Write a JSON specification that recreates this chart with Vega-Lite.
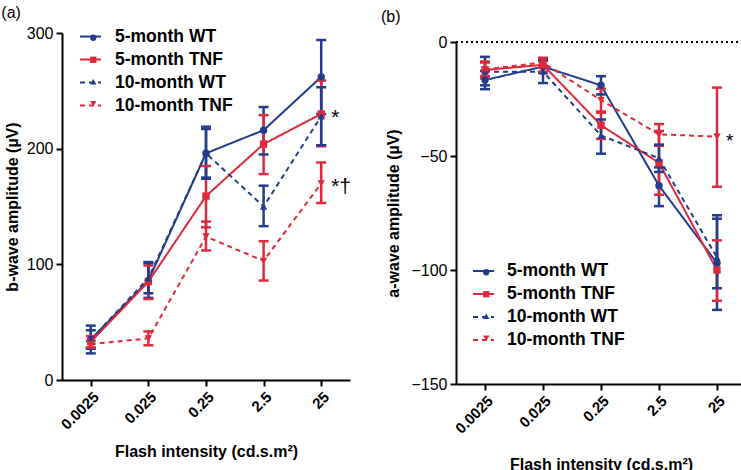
{
  "$schema": "https://vega.github.io/schema/vega-lite/v6.json",
  "background": "white",
  "padding": {"left": 1, "top": 5, "right": 0, "bottom": 0},
  "columns": 2,
  "align": "none",
  "spacing": 28,
  "datasets": {
    "bwave": [
      {"intensity": "0.0025", "series": "5-month WT", "mean": 35, "lo": 23, "hi": 47},
      {"intensity": "0.025", "series": "5-month WT", "mean": 86, "lo": 71, "hi": 102},
      {"intensity": "0.25", "series": "5-month WT", "mean": 196, "lo": 175, "hi": 217},
      {"intensity": "2.5", "series": "5-month WT", "mean": 216, "lo": 195, "hi": 236},
      {"intensity": "25", "series": "5-month WT", "mean": 262, "lo": 230, "hi": 294},
      {"intensity": "0.0025", "series": "5-month TNF", "mean": 33, "lo": 28, "hi": 38},
      {"intensity": "0.025", "series": "5-month TNF", "mean": 85, "lo": 70, "hi": 99},
      {"intensity": "0.25", "series": "5-month TNF", "mean": 159, "lo": 132, "hi": 185},
      {"intensity": "2.5", "series": "5-month TNF", "mean": 204, "lo": 178, "hi": 229},
      {"intensity": "25", "series": "5-month TNF", "mean": 230, "lo": 202, "hi": 259},
      {"intensity": "0.0025", "series": "10-month WT", "mean": 35, "lo": 27, "hi": 43},
      {"intensity": "0.025", "series": "10-month WT", "mean": 88, "lo": 75, "hi": 101},
      {"intensity": "0.25", "series": "10-month WT", "mean": 196, "lo": 174, "hi": 219},
      {"intensity": "2.5", "series": "10-month WT", "mean": 150, "lo": 133, "hi": 168},
      {"intensity": "25", "series": "10-month WT", "mean": 228, "lo": 203, "hi": 253},
      {"intensity": "0.0025", "series": "10-month TNF", "mean": 31, "lo": 28, "hi": 34},
      {"intensity": "0.025", "series": "10-month TNF", "mean": 36, "lo": 30, "hi": 42},
      {"intensity": "0.25", "series": "10-month TNF", "mean": 124, "lo": 112, "hi": 137},
      {"intensity": "2.5", "series": "10-month TNF", "mean": 103, "lo": 86, "hi": 120},
      {"intensity": "25", "series": "10-month TNF", "mean": 170, "lo": 153, "hi": 188}
    ],
    "awave": [
      {"intensity": "0.0025", "series": "5-month WT", "mean": -16.7, "lo": -20.7, "hi": -12.7},
      {"intensity": "0.025", "series": "5-month WT", "mean": -10.8, "lo": -13.5, "hi": -8},
      {"intensity": "0.25", "series": "5-month WT", "mean": -19, "lo": -23, "hi": -15},
      {"intensity": "2.5", "series": "5-month WT", "mean": -63, "lo": -72, "hi": -55},
      {"intensity": "25", "series": "5-month WT", "mean": -97, "lo": -117.5, "hi": -76},
      {"intensity": "0.0025", "series": "5-month TNF", "mean": -12.3, "lo": -16, "hi": -8.6},
      {"intensity": "0.025", "series": "5-month TNF", "mean": -10, "lo": -13, "hi": -7},
      {"intensity": "0.25", "series": "5-month TNF", "mean": -36.5, "lo": -42.5, "hi": -31},
      {"intensity": "2.5", "series": "5-month TNF", "mean": -53, "lo": -67, "hi": -39},
      {"intensity": "25", "series": "5-month TNF", "mean": -100, "lo": -113.5, "hi": -87},
      {"intensity": "0.0025", "series": "10-month WT", "mean": -13, "lo": -19, "hi": -6.5},
      {"intensity": "0.025", "series": "10-month WT", "mean": -13, "lo": -18, "hi": -8},
      {"intensity": "0.25", "series": "10-month WT", "mean": -41, "lo": -49, "hi": -34},
      {"intensity": "2.5", "series": "10-month WT", "mean": -51, "lo": -57, "hi": -45},
      {"intensity": "25", "series": "10-month WT", "mean": -94.5, "lo": -108, "hi": -77.5},
      {"intensity": "0.0025", "series": "10-month TNF", "mean": -12, "lo": -15, "hi": -9},
      {"intensity": "0.025", "series": "10-month TNF", "mean": -9, "lo": -11, "hi": -7},
      {"intensity": "0.25", "series": "10-month TNF", "mean": -25.5, "lo": -30.5, "hi": -20.5},
      {"intensity": "2.5", "series": "10-month TNF", "mean": -40.5, "lo": -45.5, "hi": -36},
      {"intensity": "25", "series": "10-month TNF", "mean": -41.5, "lo": -63.5, "hi": -20}
    ],
    "anno_b": [
      {"intensity": "25", "value": 230, "label": "*"},
      {"intensity": "25", "value": 170, "label": "*†"}
    ],
    "anno_a": [
      {"intensity": "25", "value": -41.5, "label": "*"}
    ]
  },
  "concat": [
    {
      "title": {"text": "(a)", "anchor": "start", "frame": "bounds", "fontSize": 16, "fontWeight": "normal", "font": "Liberation Sans", "offset": 4, "dx": -3, "color": "black"},
      "width": 288,
      "height": 347,
      "data": {"name": "bwave"},
      "encoding": {
        "x": {"field": "intensity", "type": "ordinal", "scale": {"type": "point", "padding": 0.5, "domain": ["0.0025", "0.025", "0.25", "2.5", "25"]},
          "axis": {"title": "Flash intensity (cd.s.m²)", "labelAngle": -45, "labelFontWeight": "bold", "labelFontSize": 15, "titlePadding": 11}}
      },
      "layer": [
        {"mark": {"type": "line", "strokeWidth": 2},
          "encoding": {"y": {"field": "mean", "type": "quantitative", "scale": {"domain": [0, 300], "nice": false},
            "axis": {"title": "b-wave amplitude (µV)", "values": [0, 100, 200, 300], "titlePadding": 6}},
            "stroke": {"field": "series", "type": "nominal", "scale": {"domain": ["5-month WT", "5-month TNF", "10-month WT", "10-month TNF"], "range": ["#233d8c", "#e2293b", "#233d8c", "#e2293b"]},
              "legend": {"orient": "none", "legendX": 17, "legendY": -8, "title": null, "labelFontSize": 17.5, "labelFontWeight": "bold", "labelFont": "Liberation Sans", "labelColor": "black", "symbolType": "stroke", "symbolSize": 441, "symbolStrokeWidth": 2, "labelOffset": 13, "rowPadding": 3, "padding": 0}},
            "strokeDash": {"field": "series", "type": "nominal", "scale": {"domain": ["5-month WT", "5-month TNF", "10-month WT", "10-month TNF"], "range": [[1, 0], [1, 0], [5, 4], [5, 4]]},
              "legend": {"orient": "none", "legendX": 17, "legendY": -8, "title": null, "labelFontSize": 17.5, "labelFontWeight": "bold", "labelFont": "Liberation Sans", "labelColor": "black", "symbolType": "stroke", "symbolSize": 441, "symbolStrokeWidth": 2, "labelOffset": 13, "rowPadding": 3, "padding": 0}}}},
        {"mark": {"type": "rule", "strokeWidth": 2.5},
          "encoding": {"y": {"field": "lo", "type": "quantitative"}, "y2": {"field": "hi"},
            "color": {"field": "series", "type": "nominal", "legend": null, "scale": {"domain": ["5-month WT", "5-month TNF", "10-month WT", "10-month TNF"], "range": ["#233d8c", "#e2293b", "#233d8c", "#e2293b"]}}}},
        {"mark": {"type": "tick", "thickness": 2.5, "size": 10, "opacity": 1},
          "encoding": {"y": {"field": "lo", "type": "quantitative"}, "color": {"field": "series", "type": "nominal", "legend": null}}},
        {"mark": {"type": "tick", "thickness": 2.5, "size": 10, "opacity": 1},
          "encoding": {"y": {"field": "hi", "type": "quantitative"}, "color": {"field": "series", "type": "nominal", "legend": null}}},
        {"mark": {"type": "point", "filled": true, "opacity": 1, "size": 55},
          "encoding": {"y": {"field": "mean", "type": "quantitative"},
            "fill": {"field": "series", "type": "nominal", "scale": {"domain": ["5-month WT", "5-month TNF", "10-month WT", "10-month TNF", " "], "range": ["#233d8c", "#e2293b", "#233d8c", "#e2293b", "#000000"]},
              "legend": {"orient": "none", "legendX": 22.5, "legendY": -4, "values": ["5-month WT", "5-month TNF", "10-month WT", "10-month TNF"], "title": null, "labelFontSize": 17.5, "labelFontWeight": "bold", "labelFont": "Liberation Sans", "labelOpacity": 0, "symbolSize": 40, "symbolStrokeWidth": 0, "symbolOpacity": 1, "rowPadding": 3, "padding": 0}},
            "shape": {"field": "series", "type": "nominal", "scale": {"domain": ["5-month WT", "5-month TNF", "10-month WT", "10-month TNF", " "], "range": ["circle", "square", "triangle-up", "triangle-down", "circle"]},
              "legend": {"orient": "none", "legendX": 22.5, "legendY": -4, "values": ["5-month WT", "5-month TNF", "10-month WT", "10-month TNF"], "title": null, "labelFontSize": 17.5, "labelFontWeight": "bold", "labelFont": "Liberation Sans", "labelOpacity": 0, "symbolSize": 40, "symbolStrokeWidth": 0, "symbolOpacity": 1, "rowPadding": 3, "padding": 0}}}},
        {"data": {"name": "anno_b"},
          "mark": {"type": "text", "align": "left", "baseline": "middle", "dx": 10, "dy": 4, "fontSize": 21, "font": "Liberation Sans", "color": "black"},
          "encoding": {"y": {"field": "value", "type": "quantitative"}, "text": {"field": "label"}}}
      ]
    },
    {
      "title": {"text": "(b)", "anchor": "start", "frame": "bounds", "fontSize": 16, "fontWeight": "normal", "font": "Liberation Sans", "offset": 8, "dx": -5, "color": "black"},
      "width": 290,
      "height": 351,
      "data": {"name": "awave"},
      "encoding": {
        "x": {"field": "intensity", "type": "ordinal", "scale": {"type": "point", "padding": 0.5, "domain": ["0.0025", "0.025", "0.25", "2.5", "25"]},
          "axis": {"title": "Flash intensity (cd.s.m²)", "labelAngle": -45, "labelFontWeight": "bold", "labelFontSize": 15, "titlePadding": 20}}
      },
      "layer": [
        {"mark": {"type": "rule", "strokeDash": [1.5, 3.5], "strokeWidth": 1.5, "color": "black"},
          "encoding": {"y": {"datum": 0, "type": "quantitative", "scale": {"domain": [-150, 0], "nice": false, "range": [351, 9]},
            "axis": {"title": "a-wave amplitude (µV)", "values": [0, -50, -100, -150], "titlePadding": 9}},
            "x": {"value": 0}, "x2": {"value": 300}}},
        {"mark": {"type": "line", "strokeWidth": 2},
          "encoding": {"y": {"field": "mean", "type": "quantitative"},
            "stroke": {"field": "series", "type": "nominal", "scale": {"domain": ["5-month WT", "5-month TNF", "10-month WT", "10-month TNF"], "range": ["#233d8c", "#e2293b", "#233d8c", "#e2293b"]},
              "legend": {"orient": "none", "legendX": 16, "legendY": 226.5, "title": null, "labelFontSize": 17.5, "labelFontWeight": "bold", "labelFont": "Liberation Sans", "labelColor": "black", "symbolType": "stroke", "symbolSize": 441, "symbolStrokeWidth": 2, "labelOffset": 12, "rowPadding": 3, "padding": 0}},
            "strokeDash": {"field": "series", "type": "nominal", "scale": {"domain": ["5-month WT", "5-month TNF", "10-month WT", "10-month TNF"], "range": [[1, 0], [1, 0], [5, 4], [5, 4]]},
              "legend": {"orient": "none", "legendX": 16, "legendY": 226.5, "title": null, "labelFontSize": 17.5, "labelFontWeight": "bold", "labelFont": "Liberation Sans", "labelColor": "black", "symbolType": "stroke", "symbolSize": 441, "symbolStrokeWidth": 2, "labelOffset": 12, "rowPadding": 3, "padding": 0}}}},
        {"mark": {"type": "rule", "strokeWidth": 2.5},
          "encoding": {"y": {"field": "lo", "type": "quantitative"}, "y2": {"field": "hi"},
            "color": {"field": "series", "type": "nominal", "legend": null, "scale": {"domain": ["5-month WT", "5-month TNF", "10-month WT", "10-month TNF"], "range": ["#233d8c", "#e2293b", "#233d8c", "#e2293b"]}}}},
        {"mark": {"type": "tick", "thickness": 2.5, "size": 10, "opacity": 1},
          "encoding": {"y": {"field": "lo", "type": "quantitative"}, "color": {"field": "series", "type": "nominal", "legend": null}}},
        {"mark": {"type": "tick", "thickness": 2.5, "size": 10, "opacity": 1},
          "encoding": {"y": {"field": "hi", "type": "quantitative"}, "color": {"field": "series", "type": "nominal", "legend": null}}},
        {"mark": {"type": "point", "filled": true, "opacity": 1, "size": 55},
          "encoding": {"y": {"field": "mean", "type": "quantitative"},
            "fill": {"field": "series", "type": "nominal", "scale": {"domain": ["5-month WT", "5-month TNF", "10-month WT", "10-month TNF", " "], "range": ["#233d8c", "#e2293b", "#233d8c", "#e2293b", "#000000"]},
              "legend": {"orient": "none", "legendX": 21.5, "legendY": 230.5, "values": ["5-month WT", "5-month TNF", "10-month WT", "10-month TNF"], "title": null, "labelFontSize": 17.5, "labelFontWeight": "bold", "labelFont": "Liberation Sans", "labelOpacity": 0, "symbolSize": 40, "symbolStrokeWidth": 0, "symbolOpacity": 1, "rowPadding": 3, "padding": 0}},
            "shape": {"field": "series", "type": "nominal", "scale": {"domain": ["5-month WT", "5-month TNF", "10-month WT", "10-month TNF", " "], "range": ["circle", "square", "triangle-up", "triangle-down", "circle"]},
              "legend": {"orient": "none", "legendX": 21.5, "legendY": 230.5, "values": ["5-month WT", "5-month TNF", "10-month WT", "10-month TNF"], "title": null, "labelFontSize": 17.5, "labelFontWeight": "bold", "labelFont": "Liberation Sans", "labelOpacity": 0, "symbolSize": 40, "symbolStrokeWidth": 0, "symbolOpacity": 1, "rowPadding": 3, "padding": 0}}}},
        {"data": {"name": "anno_a"},
          "mark": {"type": "text", "align": "left", "baseline": "middle", "dx": 9, "dy": 4, "fontSize": 19, "font": "Liberation Sans", "color": "black"},
          "encoding": {"y": {"field": "value", "type": "quantitative"}, "text": {"field": "label"}}}
      ]
    }
  ],
  "resolve": {"scale": {"color": "independent", "shape": "independent", "strokeDash": "independent", "fill": "independent", "stroke": "independent", "x": "independent", "y": "independent"}, "legend": {"color": "independent", "fill": "independent", "stroke": "independent", "shape": "independent", "strokeDash": "independent"}},
  "config": {
    "font": "Liberation Sans",
    "view": {"stroke": null},
    "axis": {"domainColor": "black", "domainWidth": 2, "tickColor": "black", "tickWidth": 2, "tickSize": 6, "grid": false,
      "labelFont": "Liberation Sans", "titleFont": "Liberation Sans", "labelColor": "black", "titleColor": "black",
      "labelFontSize": 16, "titleFontSize": 16, "titleFontWeight": "bold", "labelPadding": 3}
  }
}
